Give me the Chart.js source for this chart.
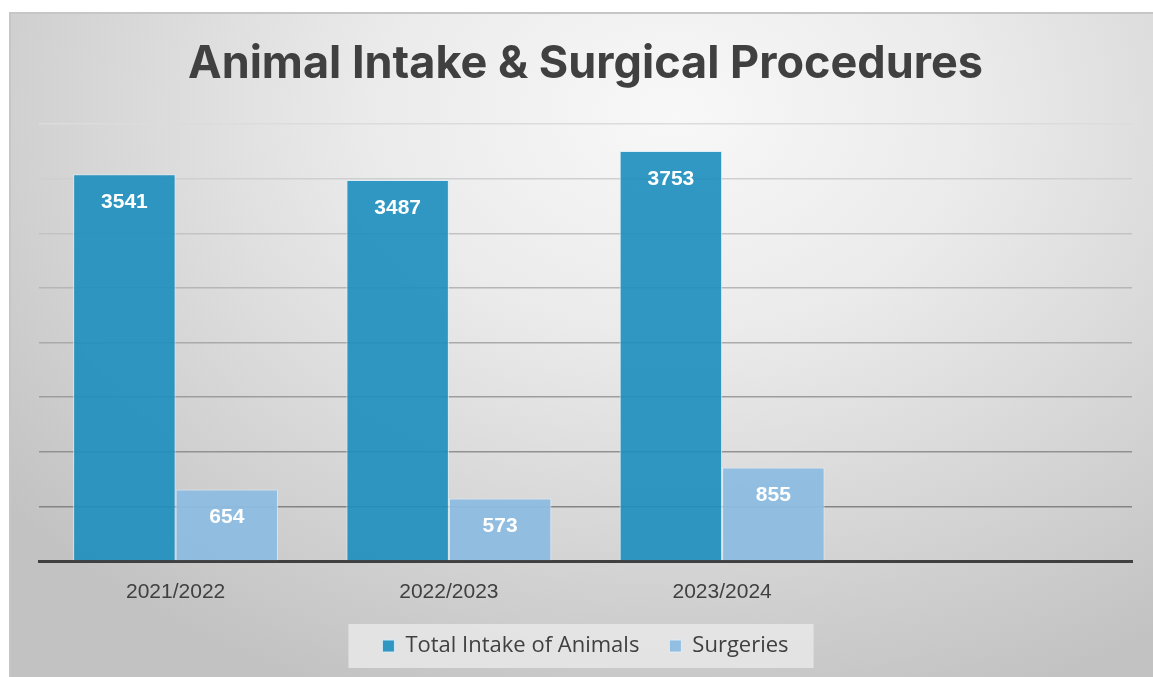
<!DOCTYPE html>
<html>
<head>
<meta charset="utf-8">
<script src="https://cdn.jsdelivr.net/npm/chart.js@4.4.1/dist/chart.umd.min.js"></script>
<style>
  html, body { margin: 0; padding: 0; background: #ffffff; }
  #card {
    position: absolute;
    left: 9px; top: 12px;
    width: 1144px; height: 665px;
    border-top: 2px solid #c6c6c6;
    border-left: 2px solid #c6c6c6;
    box-sizing: border-box;
    background: radial-gradient(ellipse 75% 95% at 58% 15%, #f8f8f8 0%, #ebebeb 35%, #d5d5d5 70%, #c2c2c2 100%);
  }
  #chartWrap { position: absolute; left: 0; top: 0; width: 1142px; height: 663px; }
</style>
</head>
<body>
<div id="card">
  <div id="chartWrap"><canvas id="intakeChart"></canvas></div>
</div>
<script>
// 数据
const years = ['2021/2022', '2022/2023', '2023/2024', ''];
const intake = [3541, 3487, 3753, null];
const surgeries = [654, 573, 855, null];
const seriesNames = ['Total Intake of Animals', 'Surgeries'];

// 网格线颜色：越往下越深
function gridColor(ctx) {
  const v = ctx.tick ? ctx.tick.value : 0;
  const t = Math.min(Math.max((v - 500) / 3500, 0), 1);
  const c = Math.round(0x84 + t * (0xdc - 0x84));
  return 'rgb(' + c + ',' + c + ',' + c + ')';
}

// 柱子里的数值标签
const barLabels = {
  id: 'barLabels',
  afterDatasetsDraw(chart) {
    const ctx = chart.ctx;
    ctx.save();
    ctx.fillStyle = '#ffffff';
    ctx.font = 'bold 21px "Liberation Sans", Arial, sans-serif';
    ctx.textAlign = 'center';
    ctx.textBaseline = 'middle';
    chart.data.datasets.forEach((ds, i) => {
      chart.getDatasetMeta(i).data.forEach((bar, j) => {
        if (ds.data[j] == null) return;
        ctx.fillText(ds.data[j], bar.x, bar.y + 28);
      });
    });
    ctx.restore();
  }
};

// 图例背景框
const legendBox = {
  id: 'legendBox',
  beforeDraw(chart) {
    const lg = chart.legend;
    if (!lg || !lg.legendHitBoxes.length) return;
    const boxes = lg.legendHitBoxes;
    const last = boxes[boxes.length - 1];
    const left = boxes[0].left - 34;
    const right = last.left + last.width + 25;
    const ctx = chart.ctx;
    ctx.save();
    ctx.fillStyle = 'rgba(232,232,232,0.85)';
    ctx.fillRect(left, 610, right - left, 44);
    ctx.restore();
  }
};

function initChart() {
  const ctx = document.getElementById('intakeChart').getContext('2d');
  new Chart(ctx, {
    type: 'bar',
    data: {
      labels: years,
      datasets: [{
        label: seriesNames[0],
        data: intake,
        backgroundColor: 'rgba(30,143,190,0.92)',
        borderColor: 'rgba(220,236,246,0.9)',
        borderWidth: 1,
        barPercentage: 1.0,
        categoryPercentage: 0.75
      }, {
        label: seriesNames[1],
        data: surgeries,
        backgroundColor: 'rgba(140,188,224,0.95)',
        borderColor: 'rgba(225,238,248,0.9)',
        borderWidth: 1,
        barPercentage: 1.0,
        categoryPercentage: 0.75
      }]
    },
    options: {
      responsive: true,
      maintainAspectRatio: false,
      animation: false,
      layout: { padding: { left: 28, right: 21, top: 0, bottom: 10 } },
      plugins: {
        title: {
          display: true,
          text: 'Animal Intake & Surgical Procedures',
          color: '#404040',
          font: { family: 'Inter, "Open Sans", sans-serif', size: 45, weight: 'bold' },
          padding: { top: 23, bottom: 33 }
        },
        legend: {
          position: 'bottom',
          labels: {
            color: '#404040',
            font: { family: '"Open Sans", Lato, sans-serif', size: 22 },
            boxWidth: 12,
            boxHeight: 12,
            padding: 30
          }
        },
        tooltip: { enabled: false }
      },
      scales: {
        x: {
          grid: { display: false, drawTicks: false },
          border: { display: true, color: '#404040', width: 3 },
          ticks: {
            color: '#404040',
            font: { family: '"Liberation Sans", Arial, sans-serif', size: 21 },
            padding: 19
          },
          afterFit(scale) { scale.height = 44; }
        },
        y: {
          min: 0,
          max: 4000,
          ticks: { stepSize: 500, display: false },
          border: { display: false },
          grid: { color: gridColor, lineWidth: 1.5, drawTicks: false }
        }
      }
    },
    plugins: [legendBox, barLabels]
  });
}

window.onload = initChart;
</script>
</body>
</html>
